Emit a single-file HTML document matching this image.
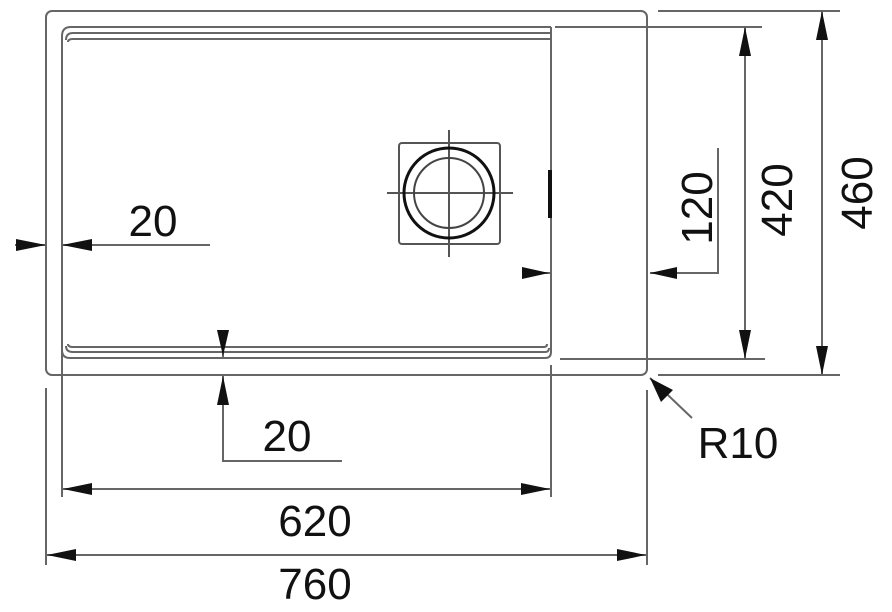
<!DOCTYPE html>
<html><head><meta charset="utf-8"><style>
html,body{margin:0;padding:0;background:#fff}
svg{display:block}
text{font-family:"Liberation Sans",Arial,sans-serif;font-size:44px;fill:#111}
</style></head><body>
<svg width="892" height="612" viewBox="0 0 892 612" xmlns="http://www.w3.org/2000/svg">
<g fill="none" stroke="#666" stroke-width="2">
<!-- outer -->
<rect x="46" y="11" width="601" height="364" rx="6"/>
<!-- inner bowl -->
<path d="M62 365 V36 Q62 27 71 27 H551"/>
<path d="M66 40 Q66 33 73 33 H551"/>
<path d="M68 42 Q68 39 73 39 H551"/>
<path d="M62 36 V350 Q62 358 70 358 H545 Q551 358 551 352 V27"/>
<path d="M66 346 Q66 352 73 352 H545 Q549 352 549 348"/>
<path d="M68 344 Q68 347 73 347 H544 Q547 347 547 344"/>
<!-- waste -->
<rect x="399" y="143" width="101" height="101" rx="3" stroke="#555"/>
<line x1="387" y1="193" x2="513" y2="193" stroke="#555"/>
<line x1="449" y1="130" x2="449" y2="257" stroke="#555"/>
<!-- extension lines -->
<line x1="46" y1="388" x2="46" y2="565"/>
<line x1="62" y1="365" x2="62" y2="497"/>
<line x1="551" y1="365" x2="551" y2="497"/>
<line x1="647" y1="390" x2="647" y2="565"/>
<line x1="658" y1="11" x2="840" y2="11"/>
<line x1="658" y1="375" x2="840" y2="375"/>
<line x1="555" y1="27" x2="762" y2="27"/>
<line x1="560" y1="359" x2="765" y2="359"/>
<!-- dimension lines -->
<line x1="822" y1="11" x2="822" y2="375"/>
<line x1="745" y1="27" x2="745" y2="359"/>
<polyline points="718,148 718,273 650,273"/>
<line x1="522" y1="273" x2="551" y2="273"/>
<line x1="15" y1="245" x2="46" y2="245"/>
<line x1="62" y1="245" x2="210" y2="245"/>
<line x1="223" y1="330" x2="223" y2="358"/>
<polyline points="223,375 223,461 342,461"/>
<line x1="62" y1="489" x2="551" y2="489"/>
<line x1="46" y1="555" x2="647" y2="555"/>
<line x1="650" y1="378" x2="692" y2="418"/>
</g>
<g fill="none" stroke="#111">
<circle cx="449" cy="193" r="45" stroke-width="3"/>
<circle cx="449" cy="193" r="35" stroke-width="2" stroke="#444"/>
<line x1="550" y1="170" x2="550" y2="218" stroke-width="4"/>
</g>
<g fill="#111">
<!-- 460 -->
<polygon points="822,11 816,40 828,40"/>
<polygon points="822,375 816,346 828,346"/>
<!-- 420 -->
<polygon points="745,27 739,56 751,56"/>
<polygon points="745,359 739,330 751,330"/>
<!-- 120 -->
<polygon points="650,273 677,267 677,279"/>
<polygon points="549,273 522,267 522,279"/>
<!-- 20 left -->
<polygon points="46,245 16,239 16,251"/>
<polygon points="62,245 92,239 92,251"/>
<!-- 20 bottom -->
<polygon points="223,356 217,330 229,330"/>
<polygon points="223,376 217,405 229,405"/>
<!-- 620 -->
<polygon points="63,489 92,483 92,495"/>
<polygon points="550,489 521,483 521,495"/>
<!-- 760 -->
<polygon points="47,555 76,549 76,561"/>
<polygon points="646,555 617,549 617,561"/>
<!-- R10 -->
<polygon points="650,378 661,402 673,390"/>
</g>
<text x="153" y="236" text-anchor="middle">20</text>
<text x="287" y="451" text-anchor="middle">20</text>
<text x="315" y="536" text-anchor="middle">620</text>
<text x="315" y="599" text-anchor="middle">760</text>
<text x="738" y="458" text-anchor="middle">R10</text>
<text transform="translate(712,208) rotate(-90)" text-anchor="middle">120</text>
<text transform="translate(792,200) rotate(-90)" text-anchor="middle">420</text>
<text transform="translate(872,193) rotate(-90)" text-anchor="middle">460</text>
</svg>
</body></html>
